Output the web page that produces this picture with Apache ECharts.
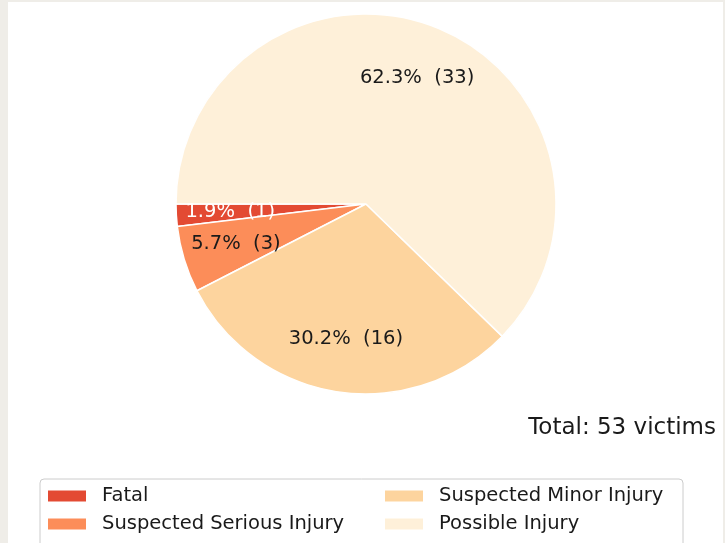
<!DOCTYPE html>
<html>
<head>
<meta charset="utf-8">
<script src="https://cdn.jsdelivr.net/npm/echarts@6/dist/echarts.min.js"></script>
<style>
    html, body { margin: 0; padding: 0; background: #efede8; }
    #chart { width: 725px; height: 543px; }
</style>
</head>
<body>
<div id="chart"></div>
<script>
// severity categories and victim counts
var categories = ["Fatal", "Suspected Serious Injury", "Suspected Minor Injury", "Possible Injury"];
var victims = [1, 3, 16, 33];

var colors = ["#e34a33", "#fc8d59", "#fdd49e", "#fef0d9"];
var font = "DejaVu Sans";

var total = victims.reduce(function (a, b) { return a + b; }, 0);

var pieData = categories.map(function (name, i) {
    return { name: name, value: victims[i], itemStyle: { color: colors[i] } };
});

// transparent ring only used to put labels at 0.7 of the radius
var labelData = categories.map(function (name, i) {
    return {
        name: name,
        value: victims[i],
        label: { color: i === 0 ? "#ffffff" : "#1a1a1a" }
    };
});

function legendItems(names) {
    return names.map(function (n) {
        return { name: n, itemStyle: { color: colors[categories.indexOf(n)] } };
    });
}

function makeLegend(left, names) {
    return {
        orient: "vertical",
        left: left,
        top: 481,
        height: 120,
        icon: "rect",
        itemWidth: 40,
        itemHeight: 13,
        itemGap: 8,
        selectedMode: false,
        textStyle: { fontFamily: font, fontSize: 19.5, color: "#1a1a1a", padding: [0, 0, 0, 10] },
        data: legendItems(names)
    };
}

var chart = echarts.init(document.getElementById("chart"));
chart.setOption({
    backgroundColor: "#efede8",
    animation: false,
    graphic: [
        { type: "rect", z: -10, shape: { x: 8, y: 2, width: 715, height: 545 }, style: { fill: "#ffffff" } },
        { type: "rect", z: -5, shape: { x: 40, y: 479, width: 643, height: 80, r: 4 },
          style: { fill: "#ffffff", stroke: "#cccccc", lineWidth: 1 } },
        { type: "text", right: 9, top: 417,
          style: { text: "Total: " + total + " victims", font: "23px '" + font + "'", fill: "#1a1a1a" } }
    ],
    legend: [
        makeLegend(41, [categories[0], categories[1]]),
        makeLegend(378, [categories[2], categories[3]])
    ],
    series: [
        {
            type: "pie",
            center: [366, 204],
            radius: [0, 190],
            startAngle: 180,
            clockwise: false,
            silent: true,
            label: { show: false },
            labelLine: { show: false },
            itemStyle: { borderColor: "#ffffff", borderWidth: 1.5 },
            data: pieData
        },
        {
            type: "pie",
            center: [366, 204],
            radius: [76, 190],
            startAngle: 180,
            clockwise: false,
            silent: true,
            itemStyle: { color: "rgba(0,0,0,0)", borderWidth: 0 },
            label: {
                show: true,
                position: "inside",
                formatter: function (p) {
                    return (p.value / total * 100).toFixed(1) + "%  (" + p.value + ")";
                },
                fontFamily: font,
                fontSize: 19.5
            },
            labelLine: { show: false },
            data: labelData
        }
    ]
});
</script>
</body>
</html>
